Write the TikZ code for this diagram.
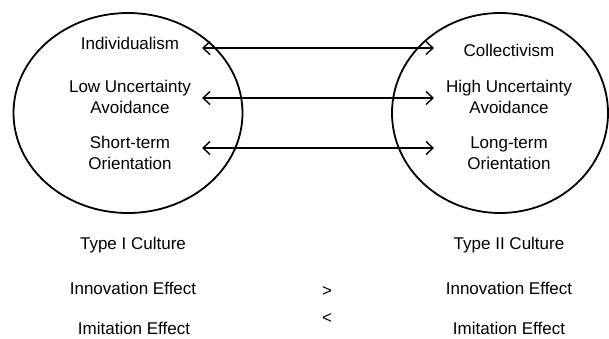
\documentclass[tikz,border=0pt]{standalone}
\usepackage{fontspec}
\setmainfont{Liberation Sans}
\usetikzlibrary{shapes.geometric,arrows.meta}
\begin{document}
\begin{tikzpicture}[x=1pt,y=-1pt,
  label text/.style={font=\fontsize{17}{21}\selectfont, align=center, inner sep=0pt},
  culture/.style={draw, line width=1.8pt, ellipse, inner sep=0pt},
  link/.style={line width=1.4pt, {Straight Barb[length=7pt,width=13pt,line width=1.4pt]}-{Straight Barb[length=7pt,width=13pt,line width=1.4pt]}},
  rel/.style={font=\fontsize{17}{21}\selectfont, inner sep=0pt}]
  \useasboundingbox (0,0) rectangle (609,338);
  % the two culture types
  \node[culture, minimum width=229pt, minimum height=200pt] (left) at (128,113) {};
  \node[culture, minimum width=216pt, minimum height=200pt] (right) at (500,113) {};
  % dimensions of type I
  \node[label text] (ind) at (130,43) {Individualism};
  \node[label text] (lua) at (130,97) {Low Uncertainty\\Avoidance};
  \node[label text] (sto) at (130,153) {Short-term\\Orientation};
  % dimensions of type II
  \node[label text] (col) at (509,50) {Collectivism};
  \node[label text] (hua) at (509,97) {High Uncertainty\\Avoidance};
  \node[label text] (lto) at (509,153) {Long-term\\Orientation};
  % arrow ends
  \coordinate (a1l) at (202,48); \coordinate (a1r) at (434,48);
  \coordinate (a2l) at (202,98); \coordinate (a2r) at (434,98);
  \coordinate (a3l) at (202,148); \coordinate (a3r) at (434,148);
  \draw[link] (a1l) -- (a1r);
  \draw[link] (a2l) -- (a2r);
  \draw[link] (a3l) -- (a3r);
  % comparison below
  \node[label text] (t1) at (133,245) {Type I Culture};
  \node[label text] (in1) at (133,288) {Innovation Effect};
  \node[label text] (im1) at (134,328) {Imitation Effect};
  \node[label text] (t2) at (509,245) {Type II Culture};
  \node[label text] (in2) at (509,288) {Innovation Effect};
  \node[label text] (im2) at (509,328) {Imitation Effect};
  \node[rel] (gt) at (327,292) {>};
  \node[rel] (lt) at (327,319) {<};
\end{tikzpicture}
\end{document}
